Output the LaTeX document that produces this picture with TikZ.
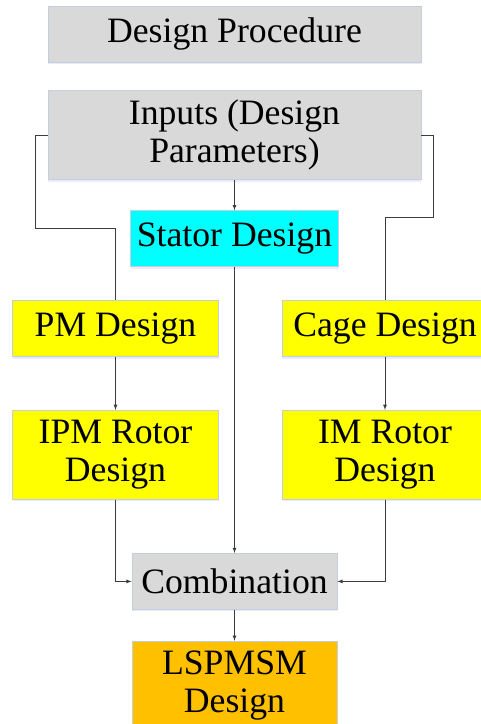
\documentclass[tikz,border=0pt]{standalone}
\usepackage{fontspec}
\setmainfont{Liberation Serif}
\usepackage{tikz}
\usetikzlibrary{positioning, arrows, shadows}
\definecolor{boxgrey}{RGB}{217,217,217}
\definecolor{boxcyan}{RGB}{0,255,255}
\definecolor{boxyellow}{RGB}{255,255,0}
\definecolor{boxorange}{RGB}{255,192,0}
\definecolor{boxedge}{RGB}{196,206,222}
\definecolor{wire}{RGB}{60,60,60}
\tikzstyle{block} = [rectangle, inner sep=0pt, align=center, draw=boxedge,
    line width=0.8pt, minimum height=56pt,
    font=\fontsize{35.7}{38}\selectfont,
    drop shadow={shadow xshift=0pt, shadow yshift=-2pt, fill=blue!25, opacity=0.35}]
\tikzstyle{greyblock} = [block, fill=boxgrey]
\tikzstyle{statorblock} = [block, fill=boxcyan, minimum width=208pt]
\tikzstyle{rotorblock} = [block, fill=boxyellow, minimum width=206pt]
\tikzstyle{finalblock} = [block, fill=boxorange, minimum width=205pt, minimum height=89pt]
\tikzstyle{line} = [draw=wire, line width=0.8pt]
\tikzstyle{arrow} = [line, ->, >=latex]

\begin{document}
\begin{tikzpicture}[x=1pt, y=-1pt]
            \useasboundingbox (0,0) rectangle (480,724);
            % Main column
            \node[greyblock, minimum width=373pt] (proc) at (234.5,34) {Design Procedure};
            \node[greyblock, minimum width=373pt, minimum height=89pt,
            below=28pt of proc] (inputs) {Inputs (Design\\Parameters)};
            \node[statorblock, below=30pt of inputs] (stator) {Stator Design};
            \node[greyblock, minimum width=205pt, below=286pt of stator] (comb) {Combination};
            \node[finalblock, below=31pt of comb] (lspmsm) {LSPMSM\\Design};
            % Rotor branches
            \node[rotorblock] (pm) at (115.5,328.5) {PM Design};
            \node[rotorblock, minimum height=89pt, below=53pt of pm] (ipm) {IPM Rotor\\Design};
            \node[rotorblock] (cage) at (385,328.5) {Cage Design};
            \node[rotorblock, minimum height=89pt, below=53pt of cage] (im) {IM Rotor\\Design};
            % Bends of the side feeds
            \coordinate (lbend) at (35,228);
            \coordinate (rbend) at (433,217);
            % Lines
            \draw[line] (inputs.west) -| (lbend) -| (pm.north);
            \draw[line] (inputs.east) -| (rbend) -| (cage.north);
            % Arrows
            \draw[arrow] (inputs) -- (stator);
            \draw[arrow] (stator) -- (comb);
            \draw[arrow] (pm) -- (ipm);
            \draw[arrow] (cage) -- (im);
            \draw[arrow] (ipm.south) |- (comb.west);
            \draw[arrow] (im.south) |- (comb.east);
            \draw[arrow] (comb) -- (lspmsm);
        \end{tikzpicture}
\end{document}
